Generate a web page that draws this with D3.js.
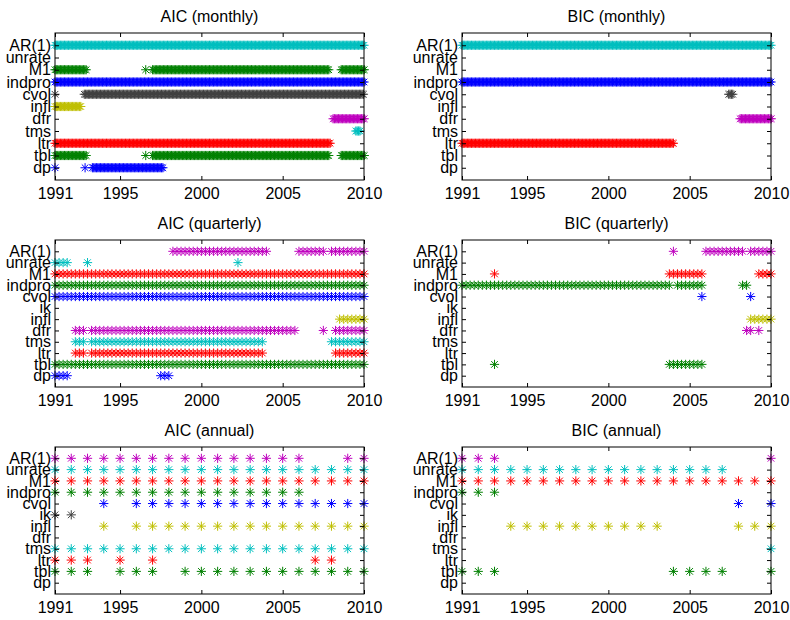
<!DOCTYPE html>
<html>
<head>
<meta charset="utf-8">
<script src="https://cdn.jsdelivr.net/npm/d3@7"></script>
<style>
  body { margin: 0; background: #fff; }
  svg { display: block; font-family: "Liberation Sans", Arial, sans-serif; }
</style>
</head>
<body>
<svg id="chart" width="790" height="620"></svg>
<script>
const yearTicks = [1991, 1995, 2000, 2005, 2010];
const varsMonthly = ["dp", "tbl", "ltr", "tms", "dfr", "infl", "cvol", "indpro", "M1", "unrate", "AR(1)"];
const varsQA = ["dp", "tbl", "ltr", "tms", "dfr", "infl", "ik", "cvol", "indpro", "M1", "unrate", "AR(1)"];
// matlab default colour order, assigned from the bottom row up
const colorCycle = ["#0000ff", "#008000", "#ff0000", "#00bfbf", "#bf00bf", "#bfbf00", "#404040"];

// selected periods as [from, to] in decimal years
const aicMonthly = {
  "AR(1)": [[1991, 2010]],
  "M1": [[1991, 1992.9], [1996.58, 1996.58], [1997.0, 2007.85], [2008.6, 2010]],
  "indpro": [[1991, 2010]],
  "cvol": [[1991, 1991], [1992.8, 2010]],
  "infl": [[1991, 1992.62]],
  "dfr": [[2008.1, 2010]],
  "tms": [[2009.5, 2009.75]],
  "ltr": [[1991, 2007.9]],
  "tbl": [[1991, 1992.9], [1996.58, 1996.58], [1997.0, 2007.85], [2008.6, 2010]],
  "dp": [[1991, 1991], [1992.85, 1992.85], [1993.3, 1997.6]]
};
const bicMonthly = {
  "AR(1)": [[1991, 2010]],
  "indpro": [[1991, 2010]],
  "cvol": [[2007.4, 2007.65]],
  "dfr": [[2008.1, 2010]],
  "ltr": [[1991, 2004.0]]
};
const aicQuarterly = {
  "AR(1)": [[1998.25, 2004.0], [2006.0, 2007.5], [2008.0, 2010]],
  "unrate": [[1991, 1991.75], [1993.0, 1993.0], [2002.25, 2002.25]],
  "M1": [[1991, 2010]],
  "indpro": [[1991, 2010]],
  "cvol": [[1991, 2010]],
  "infl": [[2008.5, 2010]],
  "dfr": [[1992.25, 1992.75], [1993.25, 2005.75], [2007.5, 2007.5], [2008.25, 2010]],
  "tms": [[1992.25, 1992.75], [1993.25, 2003.75], [2008.0, 2010]],
  "ltr": [[1992.25, 1992.75], [1993.25, 2003.75], [2008.25, 2010]],
  "tbl": [[1991, 2010]],
  "dp": [[1991, 1991.75], [1997.5, 1998.0]]
};
const bicQuarterly = {
  "AR(1)": [[2004.0, 2004.0], [2006.0, 2008.25], [2008.75, 2010]],
  "M1": [[1993.0, 1993.0], [2003.75, 2005.75], [2009.25, 2010]],
  "indpro": [[1991, 2003.75], [2004.25, 2005.75], [2008.25, 2008.5]],
  "cvol": [[2005.75, 2005.75], [2008.75, 2008.75]],
  "infl": [[2008.75, 2010]],
  "dfr": [[2008.5, 2008.75], [2009.25, 2009.25]],
  "tbl": [[1993.0, 1993.0], [2003.75, 2005.75]]
};
// selected years
const aicAnnual = {
  "AR(1)": [1991, 1992, 1993, 1994, 1995, 1996, 1997, 1998, 1999, 2000, 2001, 2002, 2003, 2004, 2005, 2006, 2009, 2010],
  "unrate": [1991, 1992, 1993, 1994, 1995, 1996, 1997, 1998, 1999, 2000, 2001, 2002, 2003, 2004, 2005, 2006, 2007, 2008, 2009, 2010],
  "M1": [1991, 1992, 1993, 1994, 1995, 1996, 1997, 1998, 1999, 2000, 2001, 2002, 2003, 2004, 2005, 2006, 2007, 2008, 2009, 2010],
  "indpro": [1991, 1992, 1993, 1994, 1995, 1996, 1997, 1998, 1999, 2000, 2001, 2002, 2003, 2004, 2005, 2006],
  "cvol": [1994, 1996, 1997, 1998, 1999, 2000, 2001, 2002, 2003, 2004, 2005, 2006, 2007, 2008, 2009, 2010],
  "ik": [1991, 1992],
  "infl": [1994, 1996, 1997, 1998, 1999, 2000, 2001, 2002, 2003, 2004, 2005, 2006, 2007, 2008, 2009, 2010],
  "tms": [1991, 1992, 1993, 1994, 1995, 1996, 1997, 1998, 1999, 2000, 2001, 2002, 2003, 2004, 2005, 2006, 2007, 2008, 2009, 2010],
  "ltr": [1991, 1992, 1993, 1995, 1997, 2007, 2008],
  "tbl": [1991, 1992, 1993, 1995, 1996, 1997, 1999, 2000, 2001, 2002, 2003, 2004, 2005, 2006, 2007, 2008, 2009, 2010]
};
const bicAnnual = {
  "AR(1)": [1991, 1992, 1993, 2010],
  "unrate": [1991, 1992, 1993, 1994, 1995, 1996, 1997, 1998, 1999, 2000, 2001, 2002, 2003, 2004, 2005, 2006, 2007],
  "M1": [1991, 1992, 1993, 1994, 1995, 1996, 1997, 1998, 1999, 2000, 2001, 2002, 2003, 2004, 2005, 2006, 2007, 2008, 2009, 2010],
  "indpro": [1991, 1992, 1993],
  "cvol": [2008, 2010],
  "infl": [1994, 1995, 1996, 1997, 1998, 1999, 2000, 2001, 2002, 2003, 2008, 2009, 2010],
  "tms": [2010],
  "tbl": [1991, 1992, 1993, 2004, 2005, 2006, 2007, 2010]
};

// turn [from, to] periods into one point per month / quarter
function expand(periods, step) {
  const out = [];
  periods.forEach(([a, b]) => {
    const n = Math.round((b - a) / step);
    for (let i = 0; i <= n; i++) out.push(a + i * step);
  });
  return out;
}

const panels = [
  { title: "AIC (monthly)", col: 0, row: 0, vars: varsMonthly, sel: aicMonthly, step: 1 / 12 },
  { title: "BIC (monthly)", col: 1, row: 0, vars: varsMonthly, sel: bicMonthly, step: 1 / 12 },
  { title: "AIC (quarterly)", col: 0, row: 1, vars: varsQA, sel: aicQuarterly, step: 1 / 4 },
  { title: "BIC (quarterly)", col: 1, row: 1, vars: varsQA, sel: bicQuarterly, step: 1 / 4 },
  { title: "AIC (annual)", col: 0, row: 2, vars: varsQA, sel: aicAnnual, step: null },
  { title: "BIC (annual)", col: 1, row: 2, vars: varsQA, sel: bicAnnual, step: null }
];

const colX = [55, 462];
const rowY = [33, 240, 447];
const PW = 309, PH = 147;
const R = 4.6, D = R * 0.72;
const asterisk = `M${-R},0H${R}M0,${-R}V${R}M${-D},${-D}L${D},${D}M${-D},${D}L${D},${-D}`;

const svg = d3.select("#chart");

panels.forEach(p => {
  const g = svg.append("g")
    .attr("transform", `translate(${colX[p.col]},${rowY[p.row]})`);

  const x = d3.scaleLinear().domain([1991, 2010]).range([0, PW]);
  const y = d3.scaleLinear().domain([0, p.vars.length + 1]).range([PH, 0]);
  const yIdx = p.vars.map((v, i) => i + 1);

  // marks
  p.vars.forEach((v, i) => {
    const raw = p.sel[v];
    if (!raw) return;
    const pts = p.step ? expand(raw, p.step) : raw;
    g.append("g")
      .attr("stroke", colorCycle[i % colorCycle.length])
      .attr("stroke-width", 1)
      .attr("fill", "none")
      .selectAll("path")
      .data(pts)
      .join("path")
      .attr("transform", d => `translate(${x(d)},${y(i + 1)})`)
      .attr("d", asterisk);
  });

  // box
  g.append("rect")
    .attr("width", PW).attr("height", PH)
    .attr("fill", "none").attr("stroke", "#000").attr("stroke-width", 1);

  const styleAxis = a => {
    a.select(".domain").remove();
    a.selectAll("text").attr("font-size", 16).attr("fill", "#000")
      .attr("font-family", '"Liberation Sans", Arial, sans-serif');
    a.selectAll("line").attr("stroke", "#000");
  };

  g.append("g")
    .attr("transform", `translate(0,${PH})`)
    .call(d3.axisBottom(x).tickValues(yearTicks).tickFormat(d3.format("d"))
      .tickSizeInner(-4).tickSizeOuter(0).tickPadding(8))
    .call(styleAxis);
  g.append("g")
    .call(d3.axisTop(x).tickValues(yearTicks).tickFormat("")
      .tickSizeInner(-4).tickSizeOuter(0))
    .call(styleAxis);
  g.append("g")
    .call(d3.axisLeft(y).tickValues(yIdx).tickFormat(d => p.vars[d - 1])
      .tickSizeInner(-4).tickSizeOuter(0).tickPadding(4))
    .call(styleAxis);
  g.append("g")
    .attr("transform", `translate(${PW},0)`)
    .call(d3.axisRight(y).tickValues(yIdx).tickFormat("")
      .tickSizeInner(-4).tickSizeOuter(0))
    .call(styleAxis);

  g.append("text")
    .attr("x", PW / 2).attr("y", -11)
    .attr("text-anchor", "middle")
    .attr("font-size", 16)
    .text(p.title);
});
</script>
</body>
</html>
